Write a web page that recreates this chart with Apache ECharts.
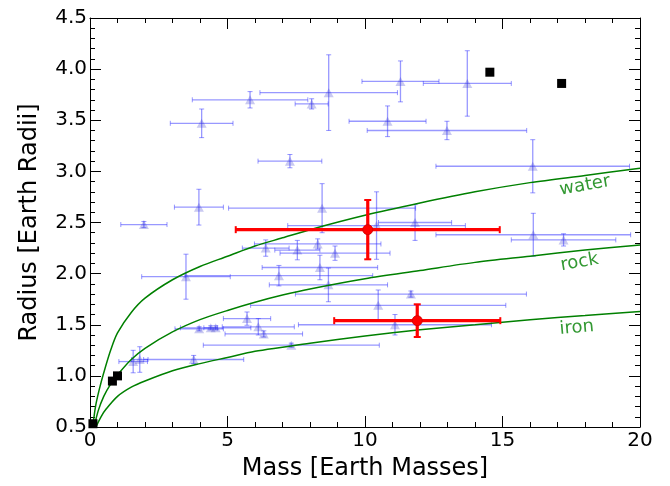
<!DOCTYPE html>
<html><head><meta charset="utf-8">
<script src="https://cdn.jsdelivr.net/npm/echarts@6.0.0/dist/echarts.min.js"></script>
<style>html,body{margin:0;padding:0;background:#fff}#c{width:670px;height:486px}</style>
</head><body><div id="c"></div>
<script>
// ---- data ----
const xTickLabels = ['0','5','10','15','20'];
const yTickLabels = ['0.5','1.0','1.5','2.0','2.5','3.0','3.5','4.0','4.5'];

// exoplanets (blue): mass, radius, mass error, radius error
const blueX    = [4.06,5.82,8.06,8.68,11.29,13.72,10.82,12.98,7.27,16.10,3.96,8.44,1.96,10.42,11.82,16.12,17.22,3.49,6.39,7.54,8.28,8.91,8.36,6.87,8.67,5.71,3.97,4.39,4.57,6.12,6.32,7.32,11.67,10.48,11.09,3.77,1.57,1.81];
const blueY    = [3.47,3.70,3.66,3.77,3.88,3.86,3.49,3.40,3.10,3.05,2.65,2.64,2.48,2.47,2.50,2.38,2.33,1.97,2.25,2.23,2.29,2.20,2.06,1.98,1.89,1.56,1.46,1.47,1.47,1.48,1.41,1.30,1.80,1.69,1.50,1.16,1.14,1.16];
const blueXErr = [1.14,2.10,0.60,2.50,1.40,1.60,1.40,2.90,1.16,3.52,0.89,3.40,0.84,3.23,1.33,3.54,1.90,1.61,0.85,0.82,2.30,2.00,2.10,3.41,2.15,0.86,0.88,0.25,1.28,1.31,1.41,3.20,4.20,4.64,3.51,1.82,0.52,0.30];
const blueYErr = [0.14,0.08,0.05,0.37,0.20,0.32,0.15,0.09,0.065,0.26,0.175,0.24,0.03,0.33,0.175,0.21,0.06,0.22,0.08,0.095,0.05,0.07,0.12,0.10,0.165,0.065,0.02,0.02,0.02,0.08,0.03,0.02,0.03,0.15,0.10,0.04,0.11,0.125];

// highlighted planets (red)
const redX    = [10.1, 11.9];
const redY    = [2.43, 1.54];
const redXErr = [4.8, 3.02];
const redYErr = [0.29, 0.16];

// solar-system planets (black squares)
const solarX = [0.107, 0.815, 1.0, 14.54, 17.15];
const solarY = [0.532, 0.949, 1.0, 3.97, 3.86];

// composition curves
const waterX = [0.06,0.1,0.2,0.34,0.5,0.75,1.0,1.5,2.0,3.0,4.0,5.0,6.0,7.0,8.0,10,12,14,16,18,20];
const waterY = [0.40,0.50,0.70,0.87,1.03,1.25,1.42,1.62,1.76,1.94,2.07,2.17,2.27,2.35,2.43,2.57,2.69,2.80,2.89,2.96,3.03];
const rockX  = [0.08,0.15,0.3,0.5,0.75,1.0,1.5,2.0,3.0,4.0,5.0,6.0,7.0,8.0,10,12,14,16,18,20];
const rockY  = [0.40,0.50,0.66,0.80,0.92,1.01,1.16,1.27,1.43,1.55,1.64,1.72,1.79,1.85,1.95,2.03,2.11,2.17,2.23,2.28];
const ironX  = [0.1,0.2,0.4,0.6,1.0,1.5,2.0,3.0,4.0,5.0,6.0,7.0,8.0,10,12,14,16,18,20];
const ironY  = [0.41,0.49,0.60,0.68,0.80,0.89,0.95,1.05,1.12,1.18,1.24,1.28,1.32,1.39,1.45,1.50,1.55,1.59,1.63];

const curveNames   = ['water','rock','iron'];
const curveLabelX  = [18.0, 17.8, 17.7];
const curveLabelY  = [2.86, 2.11, 1.47];
const curveLabelRot = [10, 10, 5];

// ---- chart ----
const FONT = 'DejaVu Sans';
const zip = (a,b) => a.map((v,i)=>[v,b[i]]);
const zip4 = (a,b,c,d) => a.map((v,i)=>[v,b[i],c[i],d[i]]);

function errRender(color, width, cap, capW){
  return function(params, api){
    const x=api.value(0), y=api.value(1), ex=api.value(2), ey=api.value(3);
    const l=api.coord([x-ex,y]), r=api.coord([x+ex,y]);
    const t=api.coord([x,y+ey]), b=api.coord([x,y-ey]);
    const st={stroke:color, lineWidth:width};
    const cs={stroke:color, lineWidth:capW};
    return {type:'group', children:[
      {type:'line', shape:{x1:l[0],y1:l[1],x2:r[0],y2:r[1]}, style:st},
      {type:'line', shape:{x1:t[0],y1:t[1],x2:b[0],y2:b[1]}, style:st},
      {type:'line', shape:{x1:l[0],y1:l[1]-cap,x2:l[0],y2:l[1]+cap}, style:cs},
      {type:'line', shape:{x1:r[0],y1:r[1]-cap,x2:r[0],y2:r[1]+cap}, style:cs},
      {type:'line', shape:{x1:t[0]-cap,y1:t[1],x2:t[0]+cap,y2:t[1]}, style:cs},
      {type:'line', shape:{x1:b[0]-cap,y1:b[1],x2:b[0]+cap,y2:b[1]}, style:cs}
    ]};
  };
}

const tickStyle = {color:'#000', width:1};
function xAxisDef(pos, showLabel){
  return {
    type:'value', min:0, max:20, interval:5, position:pos,
    axisLine:{show:true, onZero:false, lineStyle:{color:'#000', width:1}},
    axisTick:{show:true, inside:true, length:11, lineStyle:tickStyle},
    minorTick:{show:true, splitNumber:5, length:5, lineStyle:tickStyle},
    splitLine:{show:false}, minorSplitLine:{show:false},
    axisLabel:{show:showLabel, fontSize:20, color:'#000', fontFamily:FONT, margin:4,
      formatter:(v)=>xTickLabels[Math.round(v/5)]},
    name: showLabel ? 'Mass [Earth Masses]' : '',
    nameLocation:'middle', nameGap:30,
    nameTextStyle:{fontSize:24, color:'#000', fontFamily:FONT}
  };
}
function yAxisDef(pos, showLabel){
  return {
    type:'value', min:0.5, max:4.5, interval:0.5, position:pos,
    axisLine:{show:true, onZero:false, lineStyle:{color:'#000', width:1}},
    axisTick:{show:true, inside:true, length:11, lineStyle:tickStyle},
    minorTick:{show:true, splitNumber:5, length:5, lineStyle:tickStyle},
    splitLine:{show:false}, minorSplitLine:{show:false},
    axisLabel:{show:showLabel, fontSize:20, color:'#000', fontFamily:FONT, margin:3,
      formatter:(v)=>yTickLabels[Math.round((v-0.5)/0.5)]},
    name: showLabel ? 'Radius [Earth Radii]' : '',
    nameLocation:'middle', nameGap:48,
    nameTextStyle:{fontSize:24, color:'#000', fontFamily:FONT}
  };
}

const curveSeries = [[waterX,waterY],[rockX,rockY],[ironX,ironY]].map((c,i)=>({
  type:'line', name:curveNames[i], data:zip(c[0],c[1]), showSymbol:false, symbol:'none',
  smooth:0.3, clip:true, z:3,
  lineStyle:{color:'#008000', width:1.5}
}));

const option = {
  animation:false,
  backgroundColor:'#fff',
  grid:{left:90, right:30, top:18, bottom:54, containLabel:false},
  xAxis:[xAxisDef('bottom', true), xAxisDef('top', false)],
  yAxis:[yAxisDef('left', true), yAxisDef('right', false)],
  series:[
    {type:'custom', name:'blueErr', data:zip4(blueX,blueY,blueXErr,blueYErr),
     renderItem:errRender('rgba(50,50,255,0.5)',1.3,2.5,1), encode:{x:0,y:1}, z:1, clip:true},
    {type:'scatter', name:'blue', data:zip(blueX,blueY), symbol:'triangle', symbolSize:[10,9],
     itemStyle:{color:'rgba(40,40,200,0.25)', opacity:1}, z:2},
    ...curveSeries,
    {type:'custom', name:'redErr', data:zip4(redX,redY,redXErr,redYErr),
     renderItem:errRender('#ff0000',3.2,3.5,2), encode:{x:0,y:1}, z:4, clip:true},
    {type:'scatter', name:'red', data:zip(redX,redY), symbol:'circle', symbolSize:10,
     itemStyle:{color:'#ff0000', borderColor:'#cc0000', borderWidth:0.8, opacity:1}, z:5},
    {type:'scatter', name:'solar', data:zip(solarX,solarY), symbol:'rect', symbolSize:9,
     itemStyle:{color:'#000', opacity:1}, z:6},
    {type:'scatter', name:'labels', symbolSize:0, z:7, silent:true,
     data:curveNames.map((n,i)=>({name:n, value:[curveLabelX[i],curveLabelY[i]],
       label:{rotate:curveLabelRot[i]}})),
     label:{show:true, position:'inside', formatter:(p)=>p.name, color:'#008000',
       fontSize:18, fontFamily:FONT}}
  ]
};
const chart = echarts.init(document.getElementById('c'), null, {renderer:'canvas'});
chart.setOption(option);
</script>
</body></html>
